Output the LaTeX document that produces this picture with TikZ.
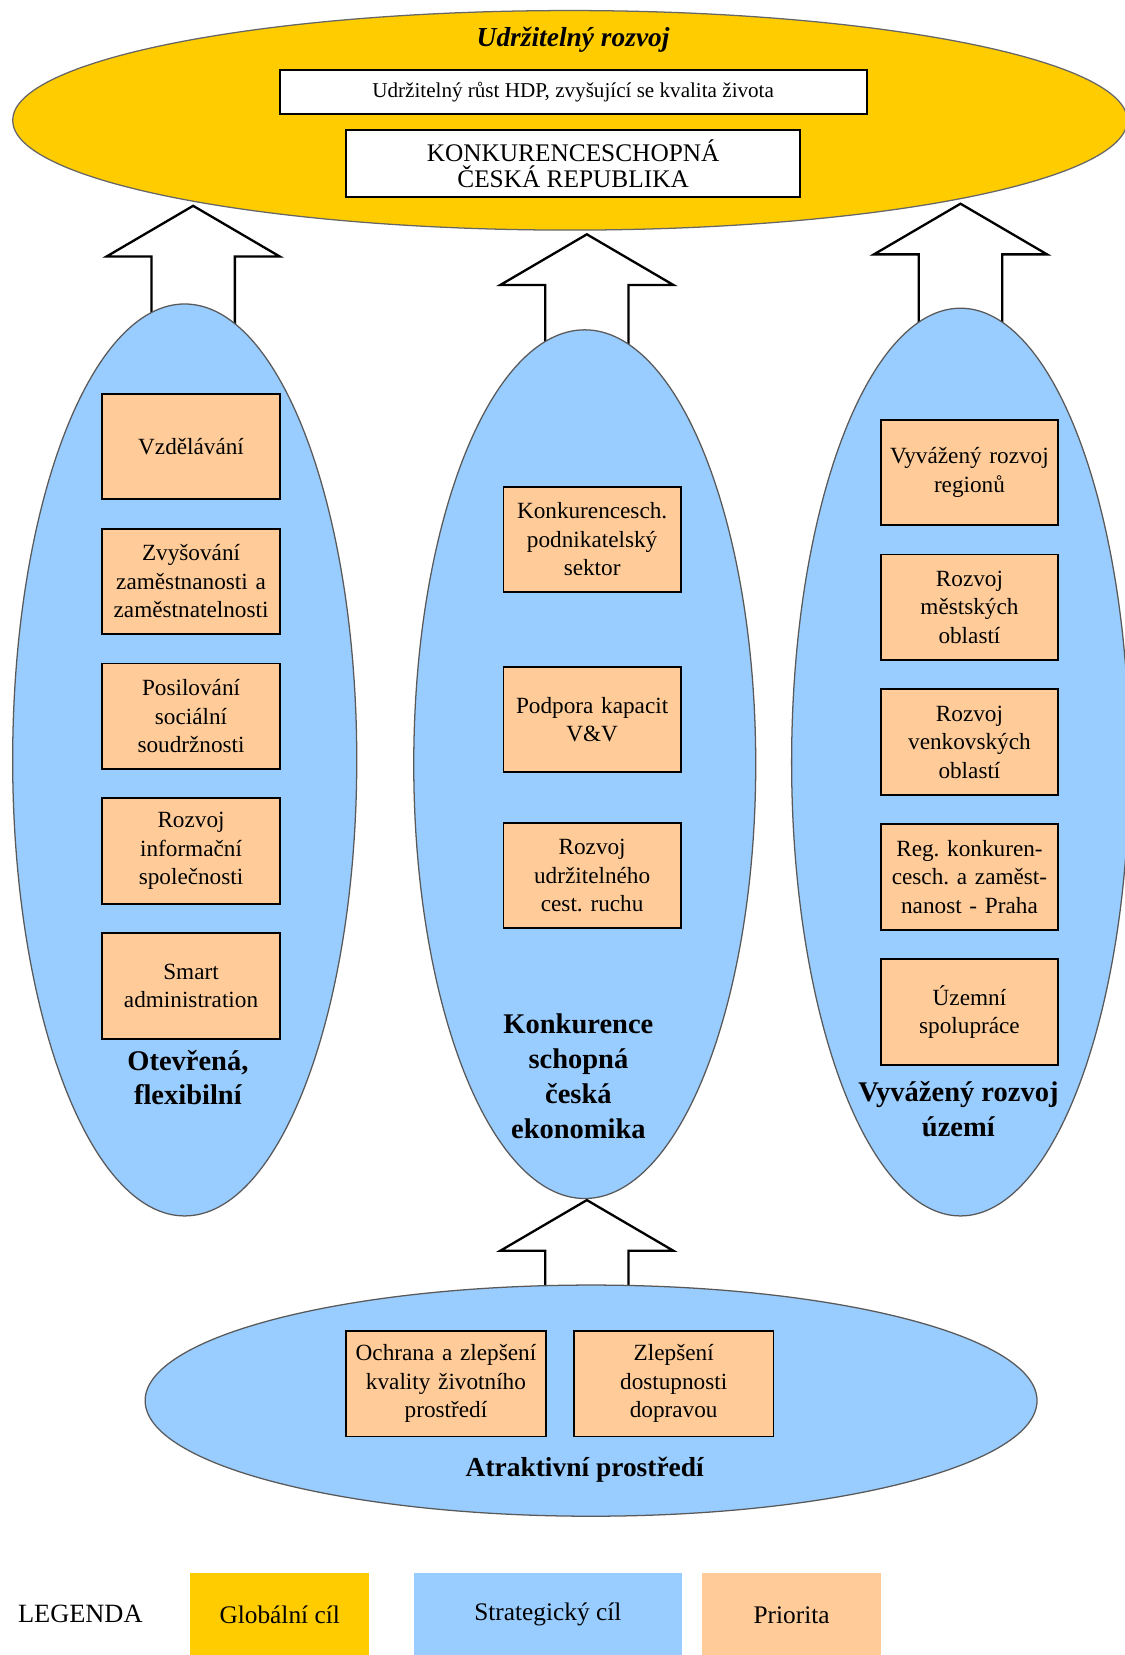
\documentclass[tikz,border=0pt]{standalone}
\usepackage{fontspec}
\setmainfont{Liberation Serif}
\usetikzlibrary{shapes.geometric}
\usetikzlibrary{positioning}
\definecolor{globalni}{HTML}{FFCC00}
\definecolor{strategicky}{HTML}{99CCFF}
\definecolor{priorita}{HTML}{FFCC99}
\frenchspacing

\begin{document}
\begin{tikzpicture}[x=0.5pt,y=-0.5pt,node distance=13pt,
    cil node/.style={ellipse,draw=black!65,line width=0.6pt,fill=strategicky,inner sep=0pt},
    prio node/.style={rectangle,draw,line width=0.9pt,fill=priorita,minimum width=84pt,minimum height=50pt,
                      text width=82pt,align=center,inner sep=1pt,font=\fontsize{11}{13.5}\selectfont},
    label node/.style={align=center,font=\fontsize{13.5}{16.5}\selectfont\bfseries},
    block arrow/.style={draw,fill=white,line width=1.1pt,line join=miter},
    legend node/.style={minimum height=40pt,font=\fontsize{12}{14}\selectfont}]

\useasboundingbox (0,0) rectangle (1065,1568);

% global goal
\node[ellipse,draw=black!60,line width=0.6pt,fill=globalni,minimum width=528pt,minimum height=104pt] (ur) at (540,114) {};
\node[font=\fontsize{13}{15}\selectfont\bfseries\itshape] (urt) at (543,38) {Udržitelný rozvoj};
\node[draw,fill=white,line width=0.9pt,minimum width=278pt,minimum height=21pt,
      font=\fontsize{10}{12}\selectfont] (hdp) at (543,87) {Udržitelný růst HDP, zvyšující se kvalita života};
\node[draw,fill=white,line width=0.9pt,minimum width=215pt,minimum height=32pt,align=center,
      font=\fontsize{12}{12.5}\selectfont] (kcr) at (543,155) {KONKURENCESCHOPNÁ\\ČESKÁ REPUBLIKA};

% arrows up to the global goal
\coordinate (a1) at (183,195);
\coordinate (a2) at (556,222);
\coordinate (a3) at (910,193);
\coordinate (a4) at (556,1137);

\draw[block arrow] (a1) -- ++(-82,48) -- ++(42.5,0) -- ++(0,80) -- ++(79,0) -- ++(0,-80) -- ++(42.5,0) -- cycle;
\draw[block arrow] (a2) -- ++(-82,48) -- ++(42.5,0) -- ++(0,80) -- ++(79,0) -- ++(0,-80) -- ++(42.5,0) -- cycle;
\draw[block arrow] (a3) -- ++(-82,48) -- ++(42.5,0) -- ++(0,80) -- ++(79,0) -- ++(0,-80) -- ++(42.5,0) -- cycle;

% strategic goals
\node[cil node,minimum width=163pt,minimum height=432pt] (otev) at (175,720) {};
\node[cil node,minimum width=162pt,minimum height=411.5pt] (konk) at (554,724) {};
\node[cil node,minimum width=160pt,minimum height=430pt] (vyv) at (910,722) {};

\draw[block arrow] (a4) -- ++(-82,48) -- ++(42.5,0) -- ++(0,60) -- ++(79,0) -- ++(0,-60) -- ++(42.5,0) -- cycle;

\node[cil node,minimum width=422.5pt,minimum height=109.5pt] (atr) at (560,1327) {};

% priorities
\node[prio node] (vzd) at (181,423) {Vzdělávání};
\node[prio node,below=of vzd] (zam) {Zvyšování\\zaměstnanosti a\\zaměstnatelnosti};
\node[prio node,below=of zam] (soc) {Posilování\\sociální\\soudržnosti};
\node[prio node,below=of soc] (inf) {Rozvoj\\informační\\společnosti};
\node[prio node,below=of inf] (sma) {Smart\\administration};

\node[prio node] (pod) at (561,511) {Konkurencesch.\\podnikatelský\\sektor};
\node[prio node,below=34.5pt of pod] (vav) {Podpora kapacit\\V\&V};
\node[prio node,below=23pt of vav] (cr) {Rozvoj\\udržitelného\\cest. ruchu};

\node[prio node] (reg) at (918.5,447.5) {Vyvážený rozvoj\\regionů};
\node[prio node,below=of reg] (mes) {Rozvoj\\městských\\oblastí};
\node[prio node,below=of mes] (ven) {Rozvoj\\venkovských\\oblastí};
\node[prio node,below=of ven] (pha) {Reg. konkuren-\\cesch. a zaměst-\\nanost - Praha};
\node[prio node,below=of pha] (uzs) {Územní\\spolupráce};

\node[prio node,minimum width=94.5pt,text width=92pt] (zp) at (422.5,1311) {Ochrana a zlepšení\\kvality životního\\prostředí};
\node[prio node,minimum width=94.5pt,text width=92pt,right=12.5pt of zp] (dop) {Zlepšení\\dostupnosti\\dopravou};

% labels of the strategic goals
\node[label node] (otevt) at (178,1021) {Otevřená,\\flexibilní};
\node[label node] (konkt) at (548,1019.5) {Konkurence\\schopná\\česká\\ekonomika};
\node[label node] (vyvt) at (908,1050.5) {Vyvážený rozvoj\\území};
\node[label node,font=\fontsize{13}{15}\selectfont\bfseries] (atrt) at (554,1392) {Atraktivní prostředí};

% legend
\node[anchor=west,font=\fontsize{12.5}{14}\selectfont] (leg) at (10,1529) {LEGENDA};
\node[legend node,fill=globalni,minimum width=85pt] (lglob) at (265,1530) {Globální cíl};
\node[legend node,fill=strategicky,minimum width=127pt] (lstr) at (519,1530) {Strategický cíl};
\node[legend node,fill=priorita,minimum width=85pt] (lpri) at (750,1530) {Priorita};
\end{tikzpicture}
\end{document}
